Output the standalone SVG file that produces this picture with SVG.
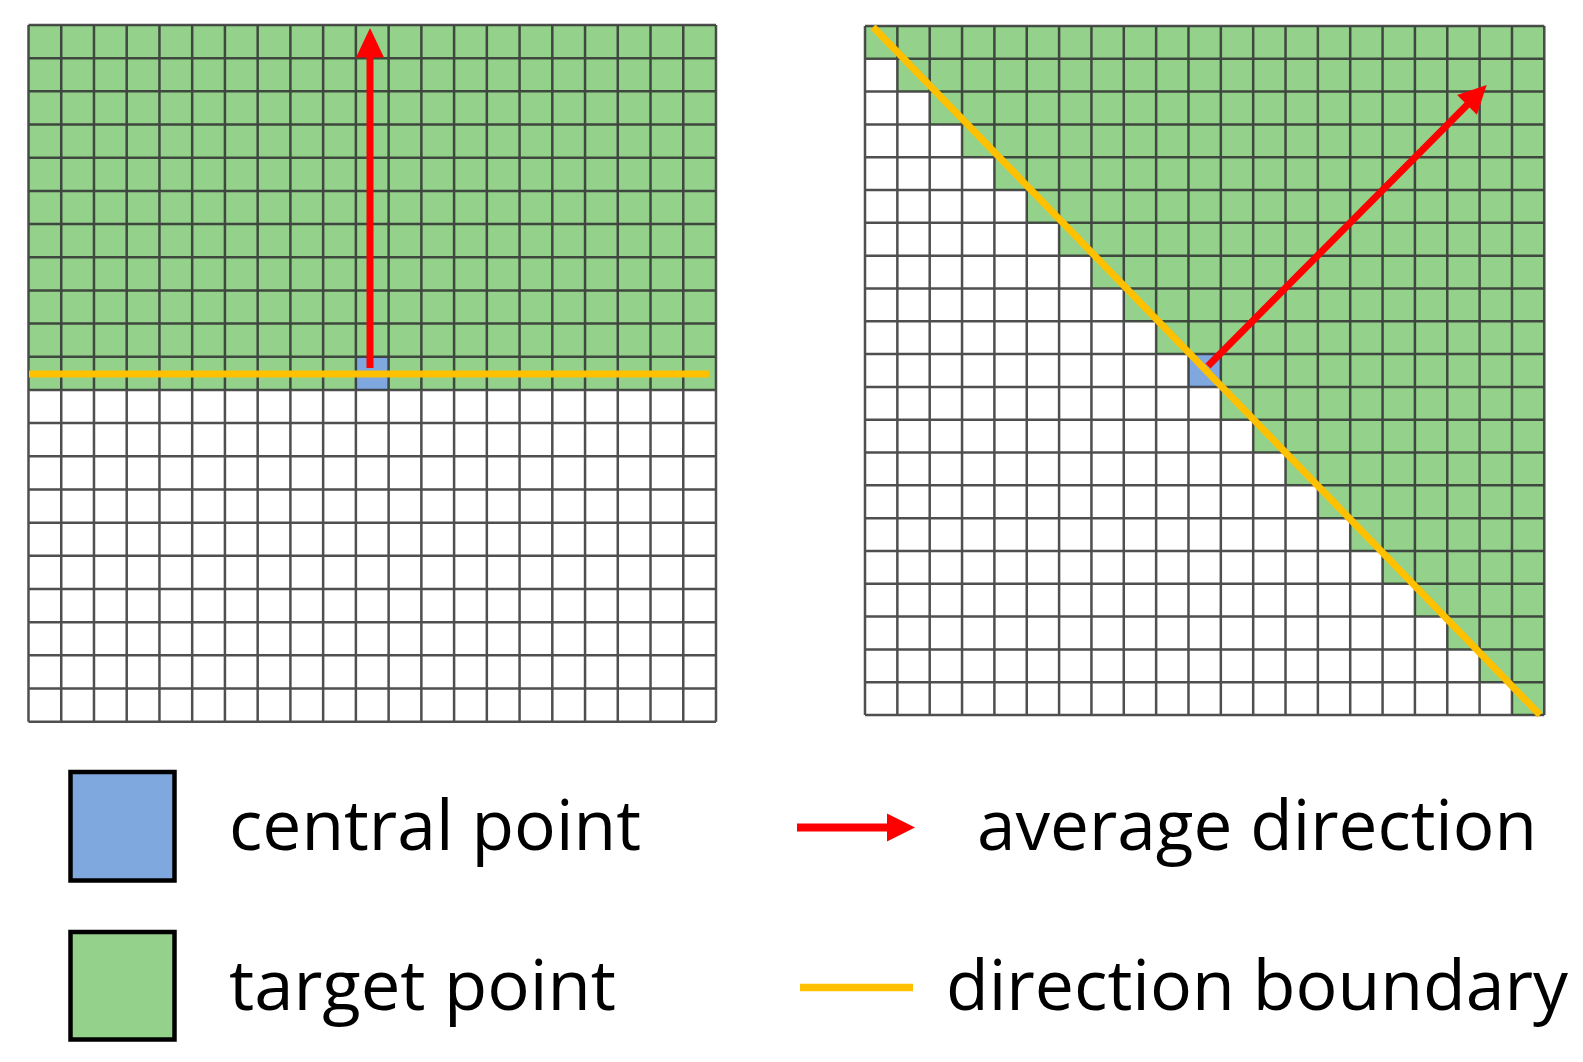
<svg xmlns="http://www.w3.org/2000/svg" width="1583" height="1062" viewBox="0 0 1583 1062">
<style>
.bg{fill:#ffffff}
.green{fill:#94D18B}
.blue{fill:#7FA8DE}
.grid{fill:none;stroke:#303030;stroke-width:2.5;stroke-opacity:0.85}
.orange{stroke:#FFC000;stroke-width:7;fill:none}
.red{stroke:#FF0000;stroke-width:7;fill:none}
.redfill{fill:#FF0000}
.key{stroke:#000;stroke-width:4.5}
.lbl{font-family:"Open Sans","Noto Sans","Liberation Sans",sans-serif;font-size:69px;fill:#000}
</style>
<rect class="bg" x="0" y="0" width="1583" height="1062"/>

<g id="left-grid">
  <rect class="green" x="28.5" y="25" width="687.5" height="364.94"/>
  <rect class="blue" x="355.88" y="356.76" width="32.74" height="33.18"/>
  <path class="grid" d="M28.5 25V721.7M61.24 25V721.7M93.98 25V721.7M126.71 25V721.7M159.45 25V721.7M192.19 25V721.7M224.93 25V721.7M257.67 25V721.7M290.4 25V721.7M323.14 25V721.7M355.88 25V721.7M388.62 25V721.7M421.36 25V721.7M454.09 25V721.7M486.83 25V721.7M519.57 25V721.7M552.31 25V721.7M585.05 25V721.7M617.78 25V721.7M650.52 25V721.7M683.26 25V721.7M716 25V721.7
  M28.5 25H716M28.5 58.18H716M28.5 91.35H716M28.5 124.53H716M28.5 157.7H716M28.5 190.88H716M28.5 224.06H716M28.5 257.23H716M28.5 290.41H716M28.5 323.58H716M28.5 356.76H716M28.5 389.94H716M28.5 423.11H716M28.5 456.29H716M28.5 489.46H716M28.5 522.64H716M28.5 555.82H716M28.5 588.99H716M28.5 622.17H716M28.5 655.34H716M28.5 688.52H716M28.5 721.7H716"/>
</g>

<g id="right-grid">
  <polygon class="green" points="865,26 1544.3,26 1544.3,715 1511.96,715 1511.96,682.2 1479.61,682.2 1479.61,649.39 1447.26,649.39 1447.26,616.58 1414.92,616.58 1414.92,583.77 1382.57,583.77 1382.57,550.96 1350.22,550.96 1350.22,518.15 1317.87,518.15 1317.87,485.34 1285.52,485.34 1285.52,452.53 1253.18,452.53 1253.18,419.72 1220.83,419.72 1220.83,386.91 1188.48,386.91 1188.48,354.1 1156.13,354.1 1156.13,321.29 1123.78,321.29 1123.78,288.48 1091.44,288.48 1091.44,255.67 1059.09,255.67 1059.09,222.86 1026.74,222.86 1026.74,190.05 994.39,190.05 994.39,157.24 962.04,157.24 962.04,124.43 929.7,124.43 929.7,91.62 897.35,91.62 897.35,58.81 865,58.81"/>
  <rect class="blue" x="1188.48" y="354.1" width="32.35" height="32.81"/>
  <path class="grid" d="M865 26V715M897.35 26V715M929.7 26V715M962.04 26V715M994.39 26V715M1026.74 26V715M1059.09 26V715M1091.44 26V715M1123.78 26V715M1156.13 26V715M1188.48 26V715M1220.83 26V715M1253.18 26V715M1285.52 26V715M1317.87 26V715M1350.22 26V715M1382.57 26V715M1414.92 26V715M1447.26 26V715M1479.61 26V715M1511.96 26V715M1544.3 26V715
  M865 26H1544.3M865 58.81H1544.3M865 91.62H1544.3M865 124.43H1544.3M865 157.24H1544.3M865 190.05H1544.3M865 222.86H1544.3M865 255.67H1544.3M865 288.48H1544.3M865 321.29H1544.3M865 354.1H1544.3M865 386.91H1544.3M865 419.72H1544.3M865 452.53H1544.3M865 485.34H1544.3M865 518.15H1544.3M865 550.96H1544.3M865 583.77H1544.3M865 616.58H1544.3M865 649.39H1544.3M865 682.2H1544.3M865 715H1544.3"/>
</g>

<g id="connectors">
  <line class="orange" x1="29" y1="374" x2="709" y2="374"/>
  <line class="red" x1="370" y1="368" x2="370" y2="55"/>
  <polygon class="redfill" points="370,28 356,57.5 384,57.5"/>
  <line class="orange" x1="873" y1="27" x2="1540" y2="715"/>
  <line class="red" x1="1208" y1="366" x2="1469" y2="103"/>
  <polygon class="redfill" points="1486.7,85 1476.9,114.7 1457.1,95"/>
</g>

<g id="legend-central">
  <rect class="key blue" x="70.5" y="772" width="104" height="108.5"/>
  <text class="lbl" x="229" y="850" textLength="412" lengthAdjust="spacingAndGlyphs">central point</text>
</g>
<g id="legend-target">
  <rect class="key green" x="70.5" y="932" width="104" height="107.5"/>
  <text class="lbl" x="229" y="1010" textLength="387" lengthAdjust="spacingAndGlyphs">target point</text>
</g>
<g id="legend-average">
  <line x1="797" y1="827.5" x2="889" y2="827.5" stroke="#FF0000" stroke-width="8"/>
  <polygon class="redfill" points="887,813.5 915,827.5 887,841.5"/>
  <text class="lbl" x="977" y="850" textLength="560" lengthAdjust="spacingAndGlyphs">average direction</text>
</g>
<g id="legend-boundary">
  <line x1="800" y1="987.5" x2="913" y2="987.5" stroke="#FFC000" stroke-width="7.5"/>
  <text class="lbl" x="946" y="1010" textLength="622" lengthAdjust="spacingAndGlyphs">direction boundary</text>
</g>
</svg>
